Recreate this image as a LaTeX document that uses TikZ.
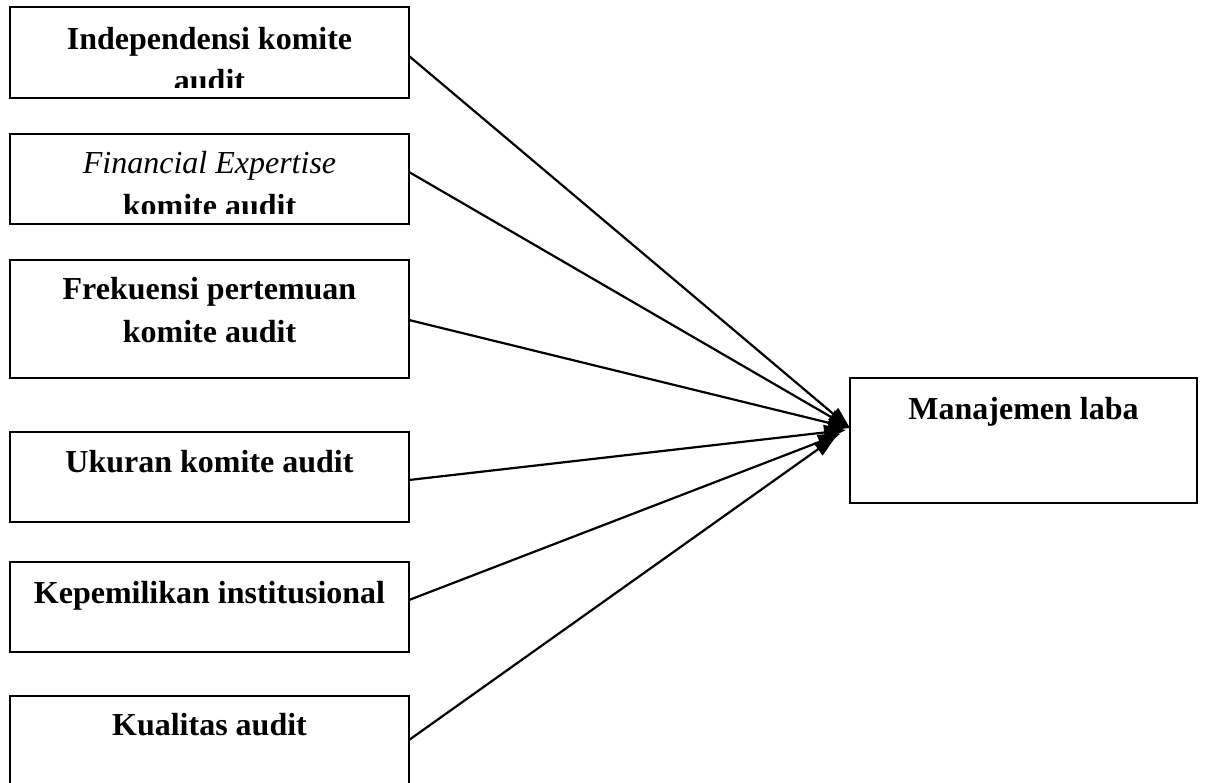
\documentclass[tikz,border=0pt]{standalone}
\usepackage{fontspec}
\setmainfont{Liberation Serif}
\usetikzlibrary{arrows.meta}
\begin{document}
\begin{tikzpicture}[x=1pt,y=-1pt,
  box/.style={draw,line width=2.2pt,inner sep=0pt,outer sep=0pt,minimum width=399pt},
  lbl/.style={anchor=base,inner sep=0pt,font=\fontsize{32}{40}\selectfont\bfseries},
  conn/.style={line width=2.2pt,-{Triangle[length=22pt,width=15pt]}}]
\clip (0,0) rectangle (1205,782);
\fill[white] (0,0) rectangle (1205,782);
% boxes
\node[box,minimum height=91pt] (b1) at (209.5,52.5) {};
\node[box,minimum height=90pt] (b2) at (209.5,179) {};
\node[box,minimum height=118pt] (b3) at (209.5,319) {};
\node[box,minimum height=90pt] (b4) at (209.5,477) {};
\node[box,minimum height=90pt] (b5) at (209.5,607) {};
\node[box,minimum height=104pt] (b6) at (209.5,748) {};
\node[box,minimum width=347pt,minimum height=125pt] (m) at (1023.5,440.5) {};
% labels
\node[lbl] (t1a) at (209.5,49) {Independensi komite};
\begin{scope}
\clip (10,7) rectangle (409,87);
\node[lbl] (t1b) at (209.5,91) {audit};
\end{scope}
\node[lbl,font=\fontsize{32}{40}\selectfont\itshape] (t2a) at (209.5,173) {Financial Expertise};
\begin{scope}
\clip (10,134) rectangle (409,213);
\node[lbl] (t2b) at (209.5,216) {komite audit};
\end{scope}
\node[lbl] (t3a) at (209.5,299) {Frekuensi pertemuan};
\node[lbl] (t3b) at (209.5,342) {komite audit};
\node[lbl] (t4) at (209.5,472) {Ukuran komite audit};
\node[lbl] (t5) at (209.5,603) {Kepemilikan institusional};
\node[lbl] (t6) at (209.5,735) {Kualitas audit};
\node[lbl] (tm) at (1023.5,419) {Manajemen laba};
% connectors
\draw[conn] ([yshift=-3.5pt]b1.east) -- ([yshift=12.5pt]m.west);
\draw[conn] ([yshift=7pt]b2.east) -- ([yshift=12.5pt]m.west);
\draw[conn] ([yshift=-1pt]b3.east) -- ([yshift=12.5pt]m.west);
\draw[conn] ([yshift=-3pt]b4.east) -- ([xshift=-4pt,yshift=10.5pt]m.west);
\draw[conn] ([yshift=7pt]b5.east) -- ([xshift=-10pt,yshift=6.5pt]m.west);
\draw[conn] ([yshift=8pt]b6.east) -- ([xshift=-14pt,yshift=4pt]m.west);
\end{tikzpicture}
\end{document}
